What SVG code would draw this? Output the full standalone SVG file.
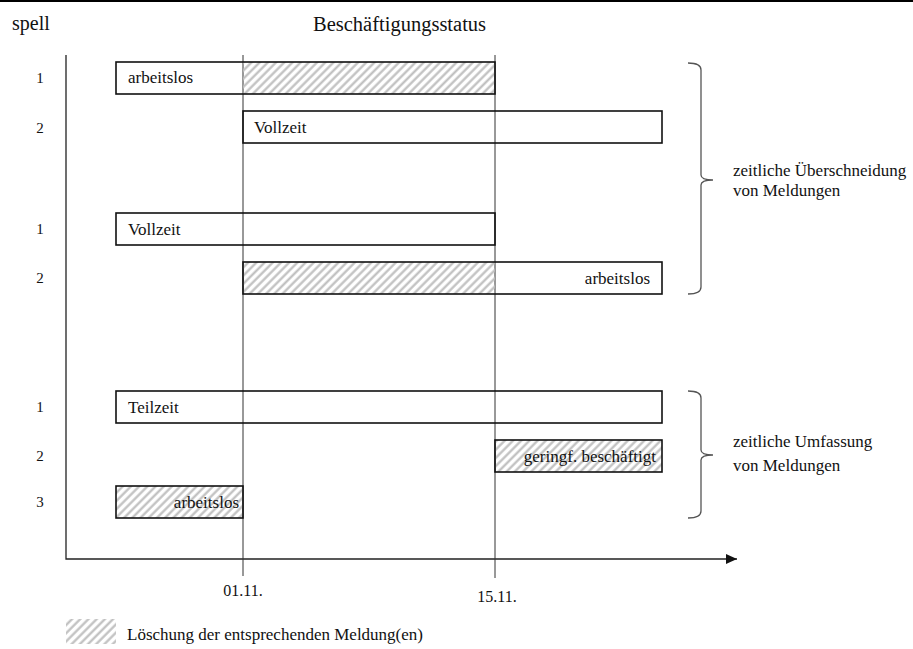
<svg xmlns="http://www.w3.org/2000/svg" width="913" height="649" viewBox="0 0 913 649" font-family="'Liberation Serif', 'Times New Roman', serif">
<style>
text{font-family:'Liberation Serif','Times New Roman',serif;fill:#111}
.lbl{font-size:17px}
.num{font-size:15px;text-anchor:middle}
.bar{fill:none;stroke:#111;stroke-width:1.6}
.hatch{fill:url(#hatch)}
.grid{stroke:#333;stroke-width:1}
.brace{fill:none;stroke:#555;stroke-width:1.3}
.axis{stroke:#222;stroke-width:1.3;fill:none}
</style>
<defs>
<pattern id="hatch" patternUnits="userSpaceOnUse" width="5.8" height="5.8" patternTransform="rotate(45)">
<line x1="1.5" y1="0" x2="1.5" y2="5.8" stroke="#bdbdbd" stroke-width="2.2"/>
</pattern>
<marker id="arrow" markerWidth="12" markerHeight="10" refX="11" refY="5" orient="auto" markerUnits="userSpaceOnUse">
<path d="M0,0 L11,5 L0,10 Z" fill="#111"/>
</marker>
</defs>
<rect width="913" height="649" fill="#fff"/>
<line x1="0" y1="1" x2="913" y2="1" stroke="#000" stroke-width="2"/>
<text x="12" y="30" font-size="20">spell</text>
<text x="313" y="31" font-size="20.5">Beschäftigungsstatus</text>

<g id="axes">
<path class="axis" d="M66,55 V559 H737" marker-end="url(#arrow)"/>
<line class="grid" x1="243" y1="55" x2="243" y2="576"/>
<line class="grid" x1="495" y1="55" x2="495" y2="578"/>
<text x="243" y="596" text-anchor="middle" font-size="16">01.11.</text>
<text x="497" y="602" text-anchor="middle" font-size="16">15.11.</text>
</g>

<g id="spells">
<text class="num" x="40" y="83">1</text>
<text class="num" x="40" y="133">2</text>
<text class="num" x="40" y="234">1</text>
<text class="num" x="40" y="283">2</text>
<text class="num" x="40" y="412">1</text>
<text class="num" x="40" y="461">2</text>
<text class="num" x="40" y="507">3</text>
</g>

<g id="bar1">
<rect class="hatch" x="243" y="62" width="252" height="32"/>
<rect class="bar" x="116" y="62" width="379" height="32"/>
<text class="lbl" x="128" y="83">arbeitslos</text>
</g>
<g id="bar2">
<rect class="bar" x="243" y="111" width="419" height="32"/>
<text class="lbl" x="254" y="133">Vollzeit</text>
</g>
<g id="bar3">
<rect class="bar" x="116" y="213" width="379" height="32"/>
<text class="lbl" x="128" y="235">Vollzeit</text>
</g>
<g id="bar4">
<rect class="hatch" x="243" y="262" width="252" height="32"/>
<rect class="bar" x="243" y="262" width="419" height="32"/>
<text class="lbl" x="650" y="284" text-anchor="end">arbeitslos</text>
</g>
<g id="bar5">
<rect class="bar" x="116" y="391" width="546" height="32"/>
<text class="lbl" x="128" y="413">Teilzeit</text>
</g>
<g id="bar6">
<rect class="hatch" x="495" y="440" width="167" height="32"/>
<rect class="bar" x="495" y="440" width="167" height="32"/>
<text class="lbl" x="656" y="462" text-anchor="end">geringf. beschäftigt</text>
</g>
<g id="bar7">
<rect class="hatch" x="116" y="486" width="127" height="32"/>
<rect class="bar" x="116" y="486" width="127" height="32"/>
<text class="lbl" x="239" y="508" text-anchor="end">arbeitslos</text>
</g>

<g id="brace1">
<path class="brace" d="M688,63 Q701,63 701,70 V175 Q701,180 713,180 Q701,180 701,185 V287 Q701,294 688,294"/>
<text class="lbl" x="733" y="176">zeitliche Überschneidung</text>
<text class="lbl" x="733" y="196">von Meldungen</text>
</g>
<g id="brace2">
<path class="brace" d="M688,391 Q701,391 701,398 V450 Q701,455 713,455 Q701,455 701,460 V511 Q701,518 688,518"/>
<text class="lbl" x="733" y="447">zeitliche Umfassung</text>
<text class="lbl" x="733" y="471">von Meldungen</text>
</g>

<g id="legend">
<rect class="hatch" x="66" y="619" width="50" height="25"/>
<text class="lbl" x="127" y="640">Löschung der entsprechenden Meldung(en)</text>
</g>
</svg>
